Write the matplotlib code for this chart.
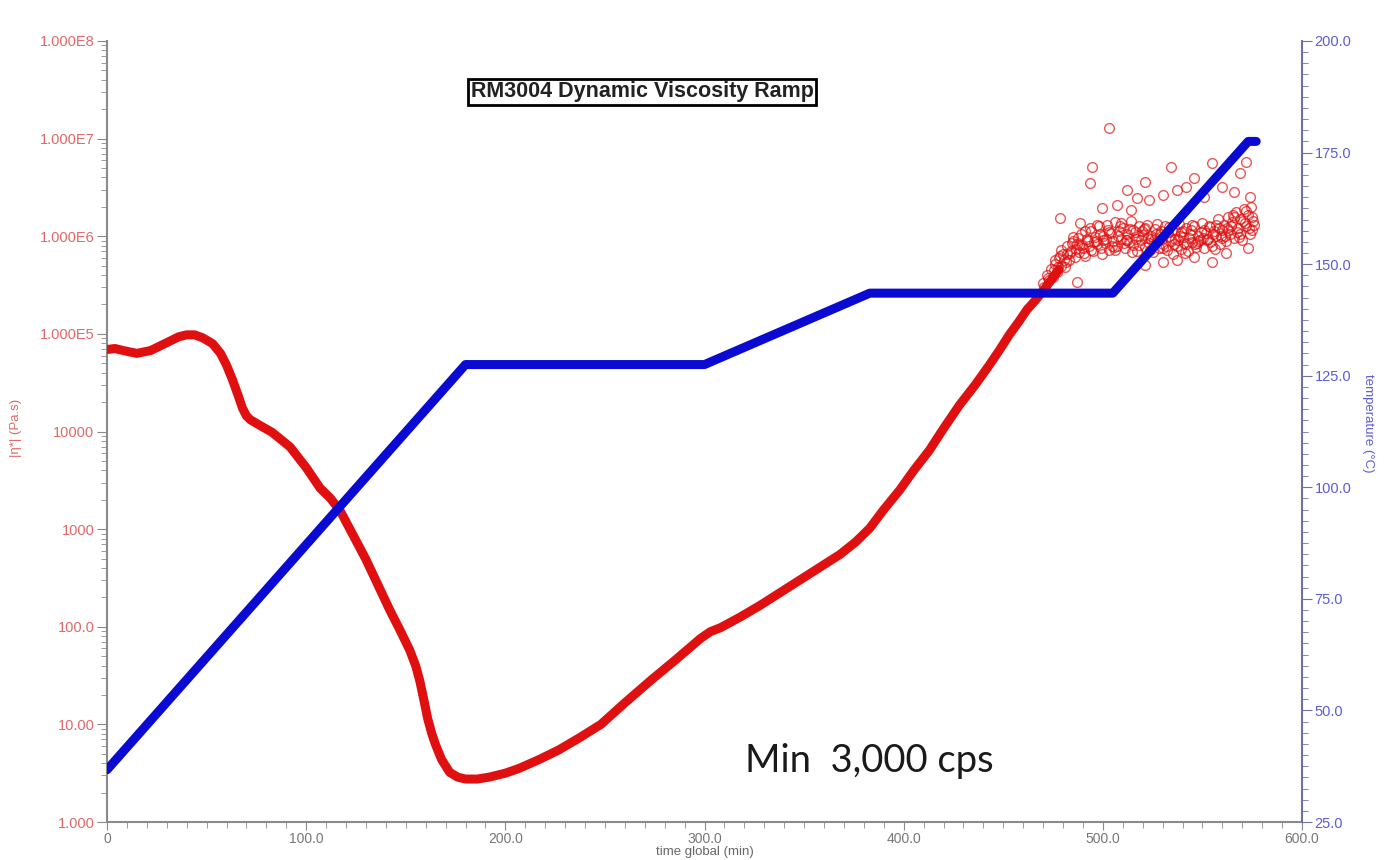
import numpy as np
import matplotlib
matplotlib.use("Agg")
import matplotlib.pyplot as plt
from matplotlib.ticker import FixedLocator, MultipleLocator, LogLocator, NullFormatter

plt.rcParams['font.family'] = ['Liberation Sans', 'DejaVu Sans']

# smooth part of |eta*| curve: time (min), log10(Pa.s)
visc_t = [0, 4, 8, 15, 22, 30, 36, 40, 44, 48, 53, 57, 60, 63, 66, 68, 70, 72, 77, 83,
          92, 100, 107, 112, 117, 123, 130, 136, 142, 147, 152, 155, 157, 159, 161, 163,
          165, 168, 172, 176, 180, 186, 192, 200, 207, 217, 227, 237, 248, 260, 273,
          286, 298, 303, 308, 318, 328, 338, 348, 358, 368, 376, 383, 390, 398, 405,
          413, 420, 428, 436, 443, 448, 453, 458, 462, 466, 470, 474, 478]
visc_log = [4.84, 4.85, 4.83, 4.80, 4.83, 4.91, 4.97, 4.99, 4.99, 4.96, 4.90, 4.80,
            4.68, 4.53, 4.36, 4.24, 4.16, 4.12, 4.06, 3.99, 3.84, 3.63, 3.42, 3.32, 3.19,
            2.96, 2.69, 2.43, 2.17, 1.97, 1.76, 1.60, 1.45, 1.26, 1.06, 0.91, 0.79, 0.64,
            0.51, 0.46, 0.44, 0.44, 0.46, 0.50, 0.55, 0.64, 0.74, 0.86, 1.00, 1.22, 1.45,
            1.67, 1.88, 1.95, 1.99, 2.10, 2.22, 2.35, 2.48, 2.61, 2.74, 2.87, 3.01, 3.20,
            3.40, 3.60, 3.81, 4.03, 4.27, 4.48, 4.68, 4.83, 4.99, 5.13, 5.25, 5.34, 5.44,
            5.55, 5.66]

scat_t = [470, 471, 472, 473, 474, 475, 476, 477, 478, 479, 480, 481, 482, 483, 484, 485,
          486, 487, 488, 489, 490, 491, 492, 493, 494, 495, 496, 497, 498, 499, 500, 501,
          502, 503, 504, 505, 506, 507, 508, 509, 510, 511, 512, 513, 514, 515, 516, 517,
          518, 519, 520, 521, 522, 523, 524, 525, 526, 527, 528, 529, 530, 531, 532, 533,
          534, 535, 536, 537, 538, 539, 540, 541, 542, 543, 544, 545, 546, 547, 548, 549,
          550, 551, 552, 553, 554, 555, 556, 557, 558, 559, 560, 561, 562, 563, 564, 565,
          566, 567, 568, 569, 570, 571, 572, 573, 574, 575, 576]
scat_log = [5.52, 5.45, 5.60, 5.55, 5.66, 5.58, 5.72, 5.63, 5.78, 5.70, 5.82, 5.68, 5.90,
            5.76, 5.85, 5.95, 5.79, 5.92, 5.84, 6.02, 5.88, 5.80, 5.97, 5.90, 6.05, 5.85,
            5.99, 5.92, 6.10, 5.88, 6.00, 5.93, 6.12, 5.86, 6.03, 5.95, 6.15, 5.90, 6.05,
            5.97, 6.08, 5.88, 6.02, 5.94, 6.16, 5.91, 6.04, 5.85, 6.10, 5.96, 6.01, 5.89,
            6.12, 5.93, 6.00, 5.84, 6.07, 5.95, 5.88, 6.05, 5.92, 6.10, 5.86, 6.00, 5.95,
            5.82, 6.06, 5.90, 6.13, 5.87, 5.99, 5.93, 6.08, 5.85, 6.02, 5.94, 6.11, 5.89,
            6.00, 5.96, 6.14, 5.88, 6.03, 5.97, 6.09, 5.90, 6.05, 6.00, 6.18, 5.92, 6.06,
            6.12, 5.95, 6.20, 6.02, 6.15, 5.98, 6.25, 6.08, 6.18, 5.96, 6.28, 6.10, 6.22,
            6.02, 6.20, 6.12]
scat2_t = [470.5, 472.5, 475.5, 477.5, 478.5, 480.5, 481.5, 483.5, 484.5, 486.5, 487.5,
           489.5, 490.5, 492.5, 493.5, 495.5, 496.5, 498.5, 499.5, 501.5, 502.5, 504.5,
           505.5, 507.5, 508.5, 510.5, 511.5, 513.5, 514.5, 516.5, 517.5, 519.5, 520.5,
           522.5, 523.5, 525.5, 526.5, 528.5, 529.5, 531.5, 532.5, 534.5, 535.5, 537.5,
           538.5, 540.5, 541.5, 543.5, 544.5, 546.5, 547.5, 549.5, 550.5, 552.5, 553.5,
           555.5, 556.5, 558.5, 559.5, 561.5, 562.5, 564.5, 565.5, 567.5, 568.5, 570.5,
           571.5, 573.5, 574.5, 575.5]
scat2_log = [5.48, 5.57, 5.65, 5.69, 5.80, 5.76, 5.74, 5.83, 5.93, 5.87, 5.98, 5.91,
             5.83, 5.95, 6.08, 5.94, 5.95, 6.02, 5.82, 5.97, 6.06, 5.90, 5.89, 6.00,
             6.10, 5.93, 5.96, 6.07, 5.84, 5.97, 6.00, 6.05, 6.07, 5.98, 5.86, 5.96,
             6.02, 6.02, 5.97, 5.90, 6.04, 6.06, 5.92, 5.96, 6.00, 6.05, 5.83, 5.98,
             6.06, 5.92, 5.93, 6.04, 5.98, 5.96, 6.10, 6.02, 5.87, 6.08, 6.00, 6.00,
             6.08, 6.11, 6.22, 6.04, 5.99, 6.16, 6.14, 6.08, 6.30, 6.16]
scat3_t = [476, 479, 482, 485, 488, 491, 494, 497, 500, 503, 506, 509, 512, 515, 518,
           521, 524, 527, 530, 533, 536, 539, 542, 545, 548, 551, 554, 557, 560, 563,
           566, 569, 572, 575]
scat3_log = [5.76, 5.86, 5.82, 5.99, 5.91, 6.05, 5.86, 6.12, 5.96, 6.04, 5.86, 6.14,
             5.96, 6.06, 5.91, 6.08, 5.97, 6.13, 5.88, 6.09, 5.97, 6.04, 5.92, 6.12,
             5.95, 6.06, 5.94, 6.12, 5.98, 6.06, 6.20, 6.02, 6.26, 6.06]
out_t = [503, 494.5, 493.5, 521, 534, 555, 572, 569, 546, 560, 512, 537, 542, 517, 523,
         530, 478.5, 488.5, 499.5, 507, 514, 574, 530, 537, 555, 562, 573, 487, 521, 546,
         566, 551]
out_log = [7.11, 6.71, 6.55, 6.56, 6.71, 6.75, 6.76, 6.65, 6.60, 6.50, 6.47, 6.47, 6.50,
           6.39, 6.37, 6.42, 6.19, 6.14, 6.29, 6.32, 6.27, 6.40, 5.74, 5.76, 5.74, 5.83,
           5.88, 5.53, 5.71, 5.79, 6.45, 6.40]

# temperature profile: time (min), degC
temp_t = [0, 180, 300, 383, 505, 573, 577]
temp_c = [36.7, 127.5, 127.5, 143.5, 143.5, 177.5, 177.5]

visc = 10 ** np.array(visc_log)

red = '#e01010'
blue = '#0a0ad2'
red_txt = '#e06868'
blue_txt = '#5c5cd6'
gray = '#8a8a8a'

fig = plt.figure(figsize=(13.96, 8.6), dpi=100)
ax = fig.add_axes([107 / 1396, 1 - 822 / 860, (1302 - 107) / 1396, (822 - 41) / 860])

ax.plot(visc_t, visc, color=red, lw=6.5, solid_capstyle='round', solid_joinstyle='round',
        zorder=3)
for tt, ll in ((scat_t, scat_log), (scat2_t, scat2_log), (scat3_t, scat3_log),
               (out_t, out_log)):
    ax.plot(tt, 10 ** np.array(ll), ls='none', marker='o', ms=7, mfc='none', mec=red,
            mew=1.0, alpha=0.7, zorder=3)

ax.set_yscale('log')
ax.set_ylim(1, 1e8)
ax.set_xlim(0, 600)
ax.yaxis.set_major_locator(FixedLocator([10.0 ** k for k in range(9)]))
ax.set_yticklabels(['1.000', '10.00', '100.0', '1000', '10000', '1.000E5', '1.000E6',
                    '1.000E7', '1.000E8'])
ax.yaxis.set_minor_locator(LogLocator(base=10, subs=np.arange(2, 10), numticks=100))
ax.yaxis.set_minor_formatter(NullFormatter())
ax.xaxis.set_minor_locator(MultipleLocator(10))
ax.set_xticks([0, 100, 200, 300, 400, 500, 600])
ax.set_xticklabels(['0', '100.0', '200.0', '300.0', '400.0', '500.0', '600.0'])

ax.tick_params(axis='y', which='major', colors=gray, labelcolor=red_txt, labelsize=10.5,
               length=7, direction='out', pad=2)
ax.tick_params(axis='y', which='minor', colors=gray, length=4, direction='out')
ax.tick_params(axis='x', which='major', colors=gray, labelcolor='#777777', labelsize=10,
               length=6, direction='out', pad=1)
ax.tick_params(axis='x', which='minor', colors=gray, length=4, direction='out')
for s in ('top', 'right'):
    ax.spines[s].set_visible(False)
ax.spines['left'].set_color(gray)
ax.spines['bottom'].set_color(gray)
ax.spines['left'].set_linewidth(1.5)
ax.spines['bottom'].set_linewidth(1.5)

ax.set_xlabel('time global (min)', fontsize=9.5, color='#666666', labelpad=0)
ax.set_ylabel('|\u03b7*| (Pa.s)', fontsize=9.5, color=red_txt)
ax.yaxis.set_label_coords(-0.071, 0.504)

ax2 = ax.twinx()
ax2.plot(temp_t, temp_c, color=blue, lw=6.5, solid_capstyle='round', zorder=4)
ax2.set_ylim(25, 200)
ax2.yaxis.set_minor_locator(MultipleLocator(2.5))
ax2.set_yticks([25, 50, 75, 100, 125, 150, 175, 200])
ax2.set_yticklabels(['25.0', '50.0', '75.0', '100.0', '125.0', '150.0', '175.0', '200.0'])
ax2.tick_params(axis='y', which='major', colors='#7070a8', labelcolor=blue_txt,
                labelsize=10.5, length=7, direction='out', pad=2)
ax2.tick_params(axis='y', which='minor', colors='#7070a8', length=4, direction='out')
for s in ('top', 'left', 'bottom'):
    ax2.spines[s].set_visible(False)
ax2.spines['right'].set_color('#7070a8')
ax2.spines['right'].set_linewidth(1.5)
ax2.set_ylabel('temperature (\u00b0C)', fontsize=9.5, color=blue_txt, rotation=270)
ax2.yaxis.set_label_coords(1.06, 0.51)

ax.text(0.448, 0.935, 'RM3004 Dynamic Viscosity Ramp', transform=ax.transAxes,
        ha='center', va='center', fontsize=15.5, fontweight='bold', color='#222222',
        bbox=dict(boxstyle='square,pad=0.12', fc='white', ec='black', lw=2), zorder=6)
ax.text(0.534, 0.078, 'Min  3,000 cps', transform=ax.transAxes, ha='left',
        va='center', fontsize=27.5, family=['Lato', 'DejaVu Sans'], color='#1a1a1a',
        zorder=6)

fig.savefig('out.png', dpi=100, facecolor='white')
